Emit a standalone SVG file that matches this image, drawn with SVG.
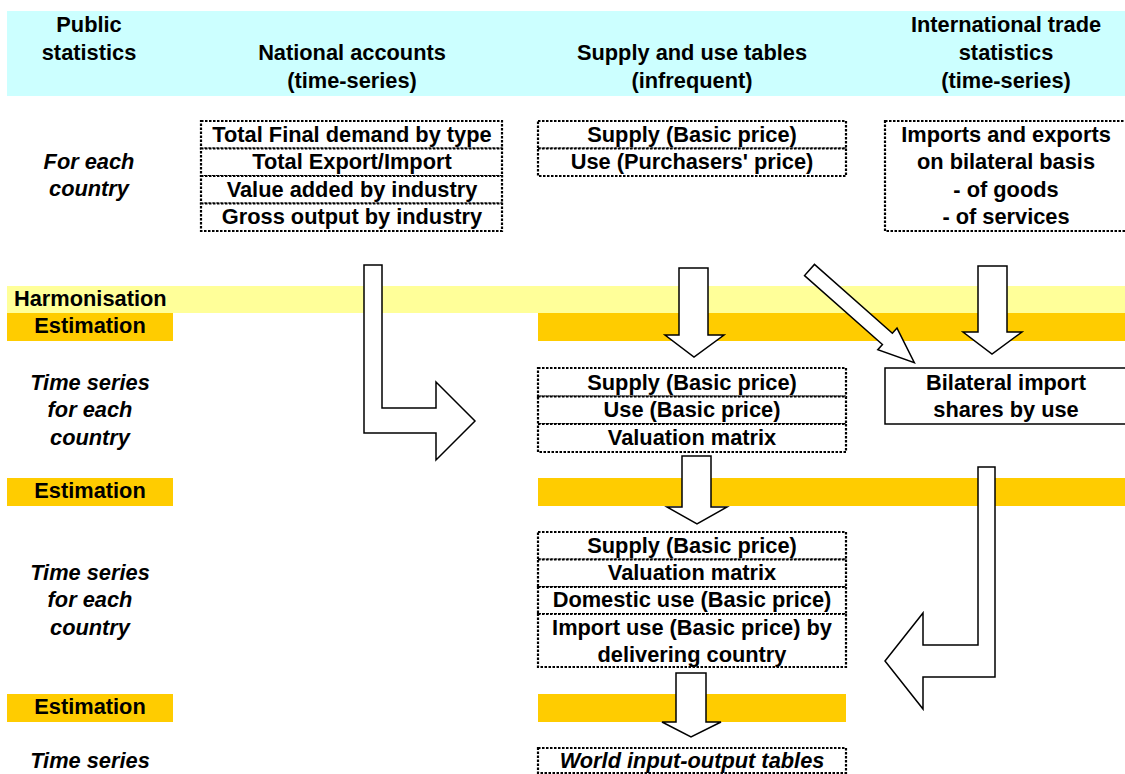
<svg xmlns="http://www.w3.org/2000/svg" width="1125" height="774" viewBox="0 0 1125 774">
<style>
text{font-family:"Liberation Sans",Arial,sans-serif;font-size:21.8px;font-weight:bold;fill:#000;text-anchor:middle}
.it{font-style:italic}
.l{text-anchor:start}
.dot{fill:#fff;stroke:#000;stroke-width:2.2;stroke-dasharray:2.5 1.5}
.sol{fill:#fff;stroke:#000;stroke-width:1.5}
.arr{fill:#fff;stroke:#000;stroke-width:1.5;stroke-linejoin:miter}
.cy{fill:#CCFFFF}.hy{fill:#FFFF99}.es{fill:#FFCC00}
</style>
<rect width="1125" height="774" fill="#fff"/>
<g id="header">
<rect class="cy" x="7" y="11" width="1118" height="85"/>
<text x="89" y="32">Public</text><text x="89" y="60">statistics</text>
<text x="352" y="60">National accounts</text><text x="352" y="88">(time-series)</text>
<text x="692" y="60">Supply and use tables</text><text x="692" y="88">(infrequent)</text>
<text x="1006" y="32">International trade</text><text x="1006" y="60">statistics</text><text x="1006" y="88">(time-series)</text>
</g>
<g id="bands">
<rect class="hy" x="7" y="286" width="1118" height="27"/>
<text class="l" x="14" y="306">Harmonisation</text>
<rect class="es" x="7" y="313" width="166" height="28"/>
<rect class="es" x="538" y="313" width="587" height="28"/>
<text x="90" y="333">Estimation</text>
<rect class="es" x="7" y="478" width="166" height="28"/>
<rect class="es" x="538" y="478" width="587" height="28"/>
<text x="90" y="498">Estimation</text>
<rect class="es" x="7" y="694" width="166" height="28"/>
<rect class="es" x="538" y="694" width="308" height="28"/>
<text x="90" y="714">Estimation</text>
</g>
<g id="row-labels">
<text class="it" x="89" y="169">For each</text><text class="it" x="89" y="196">country</text>
<text class="it" x="90" y="390">Time series</text><text class="it" x="90" y="417">for each</text><text class="it" x="90" y="445">country</text>
<text class="it" x="90" y="580">Time series</text><text class="it" x="90" y="607">for each</text><text class="it" x="90" y="635">country</text>
<text class="it" x="90" y="768">Time series</text>
</g>
<g id="na-box">
<rect class="dot" x="201" y="121" width="301" height="27.5"/>
<rect class="dot" x="201" y="148.5" width="301" height="27.5"/>
<rect class="dot" x="201" y="176" width="301" height="27.5"/>
<rect class="dot" x="201" y="203.5" width="301" height="27.5"/>
<text x="352" y="142">Total Final demand by type</text>
<text x="352" y="169">Total Export/Import</text>
<text x="352" y="197">Value added by industry</text>
<text x="352" y="224">Gross output by industry</text>
</g>
<g id="sut-box">
<rect class="dot" x="538" y="121" width="308" height="27.5"/>
<rect class="dot" x="538" y="148.5" width="308" height="27.5"/>
<text x="692" y="142">Supply (Basic price)</text>
<text x="692" y="169">Use (Purchasers' price)</text>
</g>
<g id="its-box">
<rect class="dot" x="885" y="121" width="245" height="110"/>
<text x="1006" y="142">Imports and exports</text>
<text x="1006" y="169">on bilateral basis</text>
<text x="1006" y="197">- of goods</text>
<text x="1006" y="224">- of services</text>
</g>
<g id="sut-ts-box">
<rect class="dot" x="538" y="368" width="308" height="28.5"/>
<rect class="dot" x="538" y="396.5" width="308" height="27.5"/>
<rect class="dot" x="538" y="424" width="308" height="28"/>
<text x="692" y="390">Supply (Basic price)</text>
<text x="692" y="417">Use (Basic price)</text>
<text x="692" y="445">Valuation matrix</text>
</g>
<g id="bilateral-box">
<rect class="sol" x="885" y="368" width="245" height="56"/>
<text x="1006" y="390">Bilateral import</text>
<text x="1006" y="417">shares by use</text>
</g>
<g id="sut-full-box">
<rect class="dot" x="538" y="532" width="308" height="27.5"/>
<rect class="dot" x="538" y="559.5" width="308" height="27.5"/>
<rect class="dot" x="538" y="587" width="308" height="27"/>
<rect class="dot" x="538" y="614" width="308" height="53"/>
<text x="692" y="553">Supply (Basic price)</text>
<text x="692" y="580">Valuation matrix</text>
<text x="692" y="607">Domestic use (Basic price)</text>
<text x="692" y="635">Import use (Basic price) by</text>
<text x="692" y="662">delivering country</text>
</g>
<g id="wiot-box">
<rect class="dot" x="538" y="748" width="308" height="25"/>
<text class="it" x="692" y="768">World input-output tables</text>
</g>
<g id="connectors">
<path class="arr" d="M364,265 L382,265 L382,408 L436,408 L436,382 L475,421 L436,460 L436,433 L364,433 Z"/>
<path class="arr" d="M679,268 L708,268 L708,335 L724,335 L694,357 L665,335 L679,335 Z"/>
<path class="arr" transform="translate(809.5,270) rotate(41.5)" d="M0,-7.5 L104,-7.5 L104,-14.5 L140,0 L104,14.5 L104,7.5 L0,7.5 Z"/>
<path class="arr" d="M978,266 L1007,266 L1007,332 L1022,332 L992,354 L963,332 L978,332 Z"/>
<path class="arr" d="M682,456 L711,456 L711,507 L727,507 L697,524 L667,507 L682,507 Z"/>
<path class="arr" d="M978,467 L995,467 L995,677 L923,677 L923,709 L885,661 L923,613 L923,645 L978,645 Z"/>
<path class="arr" d="M676,673 L706,673 L706,722 L721,722 L691,737 L662,722 L676,722 Z"/>
</g>
</svg>
